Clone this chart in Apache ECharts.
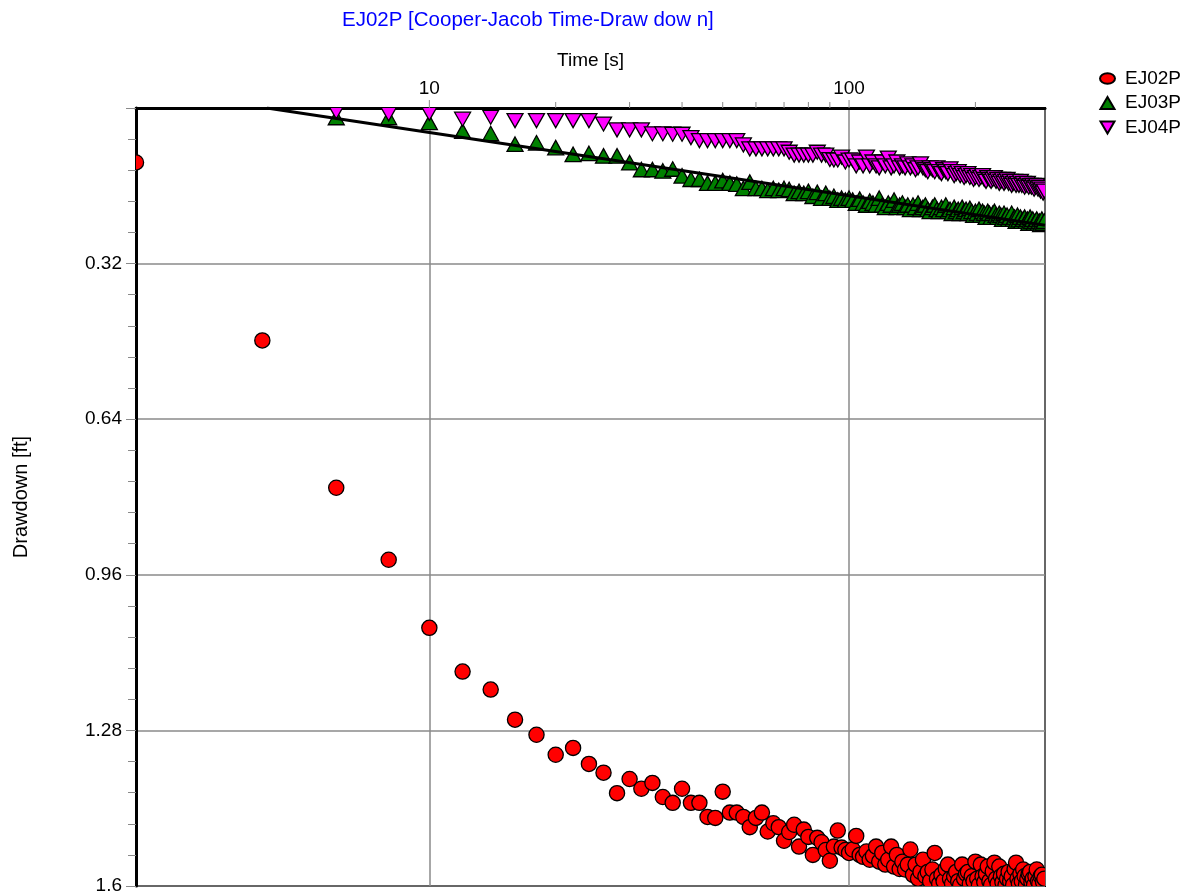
<!DOCTYPE html>
<html>
<head>
<meta charset="utf-8">
<script src="https://cdn.jsdelivr.net/npm/echarts@6/dist/echarts.min.js"></script>
<style>
html,body{margin:0;padding:0;background:#fff;}
#chart{width:1199px;height:896px;}
</style>
</head>
<body>
<div id="chart"></div>
<script>
// ---- data ----
const times = [
  2,4,6,8,10,12,14,16,18,20,
  22,24,26,28,30,32,34,36,38,40,
  42,44,46,48,50,52,54,56,58,60,
  62,64,66,68,70,72,74,76,78,80,
  82,84,86,88,90,92,94,96,98,100,
  102,104,106,108,110,112,114,116,118,120,
  122,124,126,128,130,132,134,136,138,140,
  142,144,146,148,150,152,154,156,158,160,
  162,164,166,168,170,172,174,176,178,180,
  182,184,186,188,190,192,194,196,198,200,
  202,204,206,208,210,212,214,216,218,220,
  222,224,226,228,230,232,234,236,238,240,
  242,244,246,248,250,252,254,256,258,260,
  262,264,266,268,270,272,274,276,278,280,
  282,284,286,288,290,292
];
const ej02p = [
  0.112,0.478,0.781,0.929,1.069,1.159,1.196,1.258,1.289,1.330,
  1.316,1.349,1.367,1.409,1.380,1.400,1.388,1.417,1.429,1.400,
  1.429,1.429,1.458,1.460,1.406,1.449,1.449,1.458,1.479,1.460,
  1.449,1.488,1.471,1.479,1.507,1.489,1.474,1.519,1.484,1.499,
  1.536,1.501,1.510,1.526,1.548,1.519,1.486,1.521,1.526,1.532,
  1.525,1.497,1.536,1.540,1.529,1.546,1.538,1.519,1.550,1.532,
  1.556,1.546,1.519,1.560,1.536,1.565,1.550,1.566,1.556,1.525,
  1.577,1.556,1.585,1.571,1.546,1.580,1.571,1.590,1.566,1.532,
  1.585,1.595,1.577,1.590,1.565,1.556,1.585,1.595,1.580,1.571,
  1.590,1.598,1.556,1.585,1.575,1.571,1.595,1.580,1.590,1.550,
  1.585,1.598,1.556,1.580,1.592,1.575,1.560,1.590,1.598,1.570,
  1.552,1.585,1.595,1.560,1.580,1.592,1.575,1.598,1.585,1.571,
  1.590,1.580,1.598,1.565,1.552,1.585,1.595,1.575,1.590,1.566,
  1.580,1.598,1.585,1.575,1.571,1.592,1.585,1.598,1.580,1.566,
  1.590,1.595,1.580,1.577,1.592,1.585
];
const ej03p = [
  null,null,0.020,0.020,0.030,0.048,0.053,0.075,0.072,0.082,
  0.096,0.094,0.099,0.099,0.113,0.127,0.127,0.130,0.126,0.140,
  0.147,0.147,0.155,0.155,0.150,0.155,0.157,0.166,0.153,0.166,
  0.166,0.170,0.166,0.170,0.166,0.168,0.176,0.172,0.176,0.172,
  0.182,0.174,0.186,0.176,0.186,0.182,0.190,0.186,0.190,0.186,
  0.190,0.196,0.188,0.196,0.200,0.192,0.196,0.200,0.186,0.200,
  0.205,0.196,0.200,0.190,0.205,0.200,0.196,0.205,0.200,0.209,
  0.200,0.205,0.196,0.209,0.205,0.200,0.209,0.213,0.205,0.200,
  0.209,0.213,0.205,0.209,0.200,0.213,0.209,0.217,0.205,0.213,
  0.209,0.217,0.205,0.213,0.209,0.217,0.207,0.213,0.221,0.213,
  0.217,0.209,0.221,0.213,0.217,0.225,0.213,0.217,0.225,0.217,
  0.213,0.221,0.225,0.217,0.221,0.229,0.217,0.225,0.221,0.229,
  0.225,0.217,0.229,0.225,0.233,0.221,0.230,0.225,0.233,0.229,
  0.225,0.233,0.229,0.237,0.225,0.233,0.229,0.237,0.233,0.229,
  0.237,0.233,0.240,0.229,0.237,0.233
];
const ej04p = [
  null,null,0.007,0.011,0.010,0.022,0.018,0.025,0.025,0.025,
  0.025,0.025,0.032,0.044,0.044,0.044,0.052,0.052,0.053,0.053,
  0.060,0.066,0.066,0.066,0.066,0.066,0.066,0.075,0.083,0.083,
  0.083,0.083,0.083,0.083,0.083,0.090,0.096,0.096,0.096,0.096,
  0.096,0.090,0.096,0.096,0.105,0.106,0.106,0.100,0.110,0.106,
  0.106,0.118,0.110,0.118,0.100,0.118,0.110,0.118,0.122,0.110,
  0.118,0.102,0.122,0.118,0.110,0.122,0.118,0.122,0.114,0.122,
  0.118,0.126,0.122,0.114,0.122,0.126,0.130,0.122,0.126,0.130,
  0.122,0.130,0.134,0.126,0.130,0.134,0.124,0.130,0.138,0.134,
  0.130,0.138,0.134,0.142,0.138,0.134,0.142,0.138,0.146,0.142,
  0.138,0.146,0.142,0.138,0.146,0.150,0.142,0.146,0.150,0.146,
  0.142,0.150,0.146,0.154,0.150,0.146,0.154,0.150,0.146,0.154,
  0.150,0.158,0.154,0.150,0.158,0.154,0.158,0.150,0.158,0.154,
  0.162,0.158,0.154,0.162,0.158,0.162,0.158,0.166,0.162,0.158,
  0.166,0.162,0.170,0.166,0.174,0.170
];
// Cooper-Jacob straight-line fit (end points)
const fitTimes = [4.1, 293];
const fitDrawdown = [0.0, 0.241];
// tick values
const majorTimeTicks = [10, 100];
const minorTimeTicks = [20, 30, 40, 50, 60, 70, 80, 90, 200];
const seriesNames = ['EJ02P', 'EJ03P', 'EJ04P'];

// ---- chart ----
const FONT = 'Liberation Sans';
const FS = 19;
const pair = (xs, ys) => xs.map((x, i) => [x, ys[i]]).filter(p => p[1] !== null);

function tickSeries(values, len) {
  return {
    type: 'custom', silent: true, clip: false, z: 5,
    data: values.map(v => [v, 0]),
    encode: { x: 0, y: 1 },
    renderItem: function (params, api) {
      const p = api.coord([api.value(0), 0]);
      return { type: 'line', shape: { x1: p[0], y1: p[1], x2: p[0], y2: p[1] - len },
               style: { stroke: '#8a8a8a', lineWidth: 1 } };
    }
  };
}

// marker shapes (drawn through the axes' scales, clipped to the plot area)
const markerShapes = {
  circle: (x, y, st) => ({ type: 'circle', shape: { cx: x, cy: y, r: 7.6 }, style: st }),
  up: (x, y, st) => ({ type: 'polygon', shape: { points: [[x, y - 7.5], [x + 8, y + 7], [x - 8, y + 7]] }, style: st }),
  down: (x, y, st) => ({ type: 'polygon', shape: { points: [[x - 8, y - 6.5], [x + 8, y - 6.5], [x, y + 7.5]] }, style: st })
};
function markerSeries(name, values, shape, fill) {
  const st = { fill: fill, stroke: '#000', lineWidth: 1.3 };
  return {
    name: name, type: 'custom', clip: true, z: 2,
    itemStyle: { color: fill, borderColor: '#000', borderWidth: 1.3 },
    data: pair(times, values),
    encode: { x: 0, y: 1 },
    renderItem: function (params, api) {
      const p = api.coord([api.value(0), api.value(1)]);
      return markerShapes[shape](p[0], p[1], st);
    }
  };
}

const chart = echarts.init(document.getElementById('chart'), null, { renderer: 'canvas' });
chart.setOption({
  animation: false,
  backgroundColor: '#ffffff',
  textStyle: { fontFamily: FONT },
  title: {
    text: 'EJ02P [Cooper-Jacob Time-Draw dow n]',
    left: 337, top: 5,
    textStyle: { color: '#0000ff', fontFamily: FONT, fontSize: 20.5, fontWeight: 'normal' }
  },
  legend: {
    orient: 'vertical', left: 1094, top: 64,
    itemWidth: 15, itemHeight: 12, itemGap: 5.5,
    textStyle: { fontFamily: FONT, fontSize: FS, color: '#000', lineHeight: 16, padding: [0, 0, 0, 5] },
    data: [
      { name: seriesNames[0], icon: 'path://M0,5a7,5 0 1,0 14,0a7,5 0 1,0 -14,0z' },
      { name: seriesNames[1], icon: 'path://M7,0L14,12L0,12Z' },
      { name: seriesNames[2], icon: 'path://M0,0L14,0L7,12Z' }
    ]
  },
  grid: { left: 136, top: 108, width: 909, height: 778, show: true, borderColor: '#000', borderWidth: 2, backgroundColor: 'transparent' },
  xAxis: {
    type: 'log', logBase: 10, min: 2, max: 293, position: 'top',
    name: 'Time [s]', nameLocation: 'middle', nameGap: 38,
    nameTextStyle: { fontFamily: FONT, fontSize: FS, color: '#000' },
    axisLine: { show: true, onZero: false, lineStyle: { color: '#000', width: 3 } },
    axisTick: { show: false },
    axisLabel: {
      margin: 10, fontFamily: FONT, fontSize: FS, color: '#000',
      formatter: v => (Math.abs(v - 10) < 1e-6 || Math.abs(v - 100) < 1e-6) ? String(Math.round(v)) : ''
    },
    splitLine: { show: true, lineStyle: { color: '#8a8a8a', width: 1.5 } }
  },
  yAxis: {
    type: 'value', inverse: true, min: 0, max: 1.6, interval: 0.32,
    name: 'Drawdown [ft]', nameLocation: 'middle', nameGap: 105, nameRotate: 90,
    nameTextStyle: { fontFamily: FONT, fontSize: 20, color: '#000' },
    axisLine: { show: true, onZero: false, lineStyle: { color: '#000', width: 3 } },
    axisTick: { show: true, length: 10, lineStyle: { color: '#8a8a8a' } },
    minorTick: { show: true, splitNumber: 5, length: 8, lineStyle: { color: '#8a8a8a' } },
    axisLabel: {
      margin: 14, fontFamily: FONT, fontSize: FS, color: '#000',
      formatter: v => v === 0 ? '' : String(+v.toFixed(2))
    },
    splitLine: { show: true, lineStyle: { color: '#8a8a8a', width: 1.5 } }
  },
  series: [
    markerSeries(seriesNames[0], ej02p, 'circle', '#ff0000'),
    markerSeries(seriesNames[1], ej03p, 'up', '#008000'),
    markerSeries(seriesNames[2], ej04p, 'down', '#ff00ff'),
    {
      name: 'fit', type: 'line', clip: true, z: 3, silent: true,
      symbol: 'none',
      lineStyle: { color: '#000', width: 3 },
      data: pair(fitTimes, fitDrawdown)
    },
    tickSeries(majorTimeTicks, 8),
    tickSeries(minorTimeTicks, 6)
  ]
});
</script>
</body>
</html>
